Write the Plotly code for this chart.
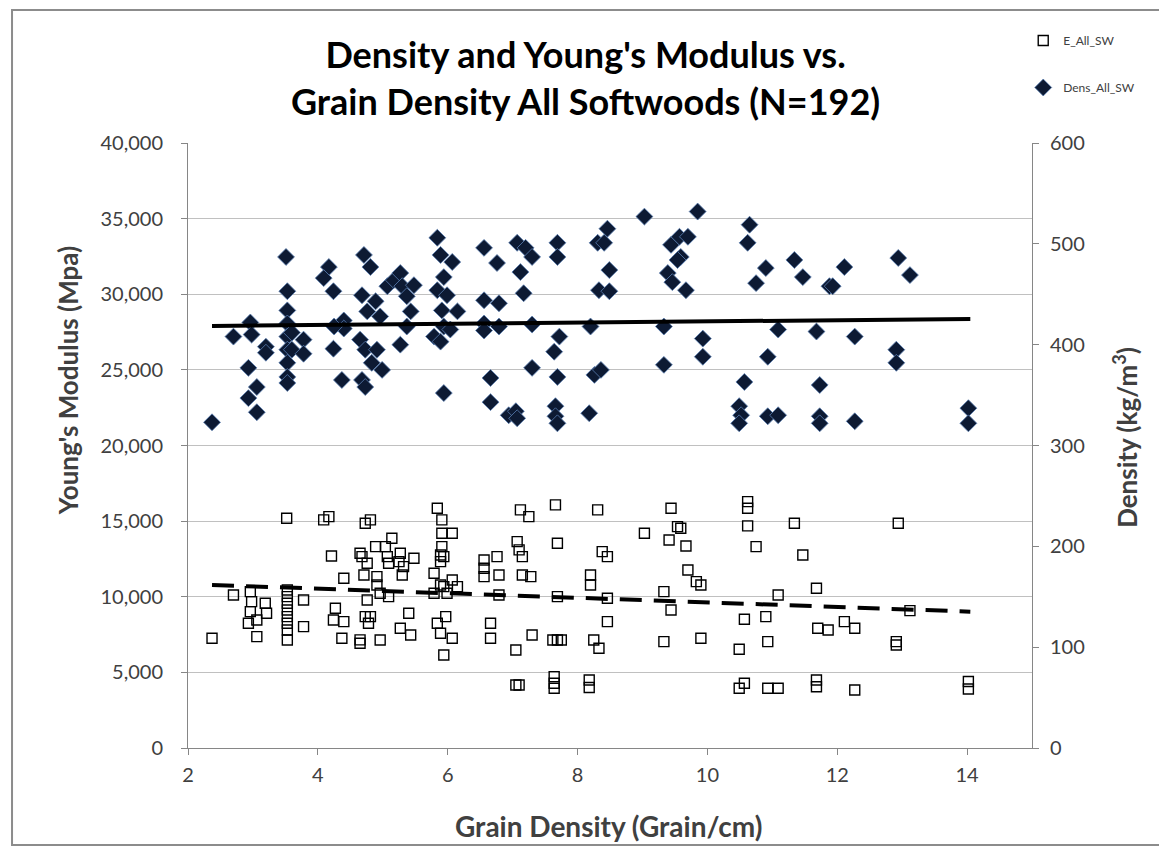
import plotly.graph_objects as go

# ---- Data ----
# Young's modulus (E) series: grain density (grain/cm) and modulus (MPa)
e_x = [2.37, 2.70, 2.96, 2.98, 2.96, 2.93, 3.06, 3.06, 3.19, 3.21,
       3.52, 3.53, 3.53, 3.53, 3.53, 3.53, 3.53, 3.53, 3.53, 3.78, 3.78,
       4.09, 4.17, 4.21, 4.40, 4.27, 4.24, 4.40, 4.37, 4.65, 4.65,
       4.73, 4.81, 4.65, 4.68, 4.76, 4.71, 4.89, 5.04, 5.14, 4.91, 4.91,
       4.76, 4.73, 4.81, 4.78, 4.96, 5.09, 4.96, 5.09, 5.07,
       5.27, 5.25, 5.32, 5.48, 5.30, 5.40, 5.27, 5.43,
       5.84, 5.91, 5.91, 6.07, 5.91, 5.89, 5.94, 5.89, 5.79, 5.89, 5.94, 6.07, 6.15, 5.79, 5.99, 5.97, 5.84, 5.89, 6.07, 5.94,
       6.56, 6.76, 6.56, 6.56, 6.79, 6.79, 6.66, 6.66,
       7.12, 7.25, 7.66, 7.69, 7.07, 7.10, 7.15, 7.15, 7.28, 7.69, 7.30, 7.05, 7.62, 7.69, 7.75, 7.05, 7.10, 7.64, 7.64, 7.64,
       8.31, 8.20, 8.20, 8.46, 8.38, 8.46, 8.46, 8.25, 8.33, 8.18, 8.18,
       9.03, 9.44, 9.54, 9.59, 9.41, 9.67, 9.70, 9.83, 9.90, 9.33, 9.44, 9.33, 9.90,
       10.62, 10.62, 10.62, 10.75, 11.34, 11.47, 11.68, 11.09, 10.57, 10.90, 10.49, 10.93, 11.70, 11.86, 10.57, 10.49, 10.93, 11.09, 11.68, 11.68,
       12.11, 12.27, 12.94, 13.12, 12.91, 12.91, 12.27, 14.02, 14.02]
e_val = [7256, 10119, 10338, 9676, 9015, 8247, 8466, 7361, 9570, 8909,
         15192, 10450, 10007, 9570, 9127, 8684, 8247, 7804, 7143, 9789, 8023,
         15080, 15298, 12699, 11224, 9240, 8466, 8354, 7256, 6925, 7150,
         14862, 15080, 12877, 12652, 12216, 11442, 13314, 13314, 13870, 11330, 10781,
         9789, 8684, 8684, 8247, 10232, 10007, 7143, 12216, 12652,
         12877, 12322, 11991, 12546, 11442, 8909, 7917, 7474,
         15854, 15080, 14200, 14200, 13314, 12765, 12652, 12322, 11555, 10781, 10669, 11111, 10669, 10232, 10232, 8684, 8247, 7586, 7256, 6151,
         12434, 12652, 11885, 11330, 11442, 10119, 8247, 7256,
         15742, 15298, 16072, 13539, 13645, 13096, 12652, 11442, 11330, 10007, 7474, 6482, 7143, 7143, 7143, 4167, 4167, 4716, 4279, 3948,
         15742, 11442, 10781, 9900, 12983, 12652, 8354, 7143, 6594, 4500, 4000,
         14200, 15854, 14637, 14531, 13757, 13360, 11773, 10999, 10781, 10338, 9127, 7031, 7256,
         16290, 15854, 14683, 13314, 14862, 12765, 10562, 10119, 8512, 8684, 6528, 7031, 7917, 7805, 4279, 3948, 3948, 3948, 4497, 4054,
         8354, 7917, 14862, 9081, 7031, 6812, 3836, 4400, 3900]

# Density series: grain density (grain/cm) and density (kg/m3)
d_x = [2.37, 2.70, 2.96, 2.98, 3.20, 3.20, 2.93, 3.06, 2.93, 3.06,
       3.51, 3.53, 3.53, 3.53, 3.53, 3.53, 3.53, 3.53, 3.53, 3.60, 3.60, 3.78, 3.78,
       4.17, 4.09, 4.24, 4.24, 4.37, 4.40, 4.40, 4.25,
       4.68, 4.71, 4.81, 4.65, 4.73, 4.68, 4.73, 4.83, 4.91, 4.99,
       4.76, 4.89, 4.96, 5.07, 5.17, 5.27, 5.30, 5.37, 5.48, 5.43, 5.37, 5.27,
       5.84, 5.89, 6.07, 5.94, 5.84, 5.99, 5.91, 6.15, 5.94, 5.79, 5.89, 6.04, 5.94,
       6.56, 6.76, 6.56, 6.79, 6.56, 6.79, 6.56, 6.66, 6.66, 6.94,
       7.07, 7.20, 7.30, 7.12, 7.17, 7.30,
       7.69, 7.69, 7.72, 7.64, 7.30, 7.69, 7.05, 7.07, 7.66, 7.66, 7.69,
       8.20, 8.18, 8.26, 8.36, 8.31, 8.46, 8.41, 8.49, 8.33, 8.49,
       9.03, 9.44, 9.57, 9.59, 9.54, 9.39, 9.46, 9.67, 9.70, 9.85, 9.33, 9.33, 9.93, 9.93,
       10.65, 10.62, 10.90, 10.75, 11.34, 11.47, 11.88, 11.09, 11.68, 10.93, 10.57, 11.73, 10.49, 10.52, 10.49, 10.93, 11.09, 11.73, 11.73,
       12.11, 11.93, 12.94, 13.12, 12.27, 12.91, 12.91, 12.27, 14.02, 14.02]
d_val = [323, 408, 422, 410, 398, 392, 377, 358, 347, 333,
         487, 453, 434, 421, 408, 395, 382, 368, 362, 412, 395, 405, 391,
         477, 466, 453, 396, 365, 424, 416, 418,
         449, 489, 477, 405, 395, 365, 358, 382, 395, 375,
         433, 443, 428, 458, 464, 471, 458, 448, 459, 433, 418, 400,
         506, 489, 482, 467, 454, 449, 434, 433, 418, 408, 403, 415, 352,
         496, 481, 444, 441, 421, 418, 414, 367, 343, 330,
         501, 496, 487, 472, 451, 420,
         501, 487, 408, 393, 377, 368, 334, 327, 339, 329, 322,
         418, 332, 370, 375, 501, 515, 501, 474, 454, 453,
         527, 499, 507, 487, 484, 471, 462, 454, 507, 532, 418, 380, 406, 388,
         519, 501, 476, 461, 484, 467, 458, 415, 413, 388, 363, 360, 339, 330, 322, 329, 330, 329, 322,
         477, 458, 486, 469, 408, 395, 382, 324, 337, 322]

# Linear trend lines (end points)
trend_x = [2.37, 14.05]
trend_e = [10780, 9015]
trend_d = [418.5, 425.5]

x_ticks = [2, 4, 6, 8, 10, 12, 14]

FONT = "Lato"
GRAY_TXT = "#404040"

fig = go.Figure()

fig.add_trace(go.Scatter(
    x=e_x, y=e_val, mode="markers", name="E_All_SW", legendgroup="e",
    marker=dict(symbol="square-open", size=10, color="black", line=dict(width=1.4, color="black")),
    yaxis="y"))
fig.add_trace(go.Scatter(
    x=d_x, y=d_val, mode="markers", name="Dens_All_SW", legendgroup="d",
    marker=dict(symbol="diamond", size=13, color="#0d1a33", line=dict(width=0.8, color="#5b7fb3")),
    yaxis="y2"))
fig.add_trace(go.Scatter(
    x=trend_x, y=trend_e, mode="lines", showlegend=False,
    line=dict(color="black", width=4, dash="22px,12px"), yaxis="y"))
fig.add_trace(go.Scatter(
    x=trend_x, y=trend_d, mode="lines", showlegend=False,
    line=dict(color="black", width=4), yaxis="y2"))

axis_common = dict(
    showline=True, linecolor="#868686", linewidth=1,
    ticks="outside", ticklen=6, tickcolor="#868686",
    tickfont=dict(family=FONT, size=20, color=GRAY_TXT),
    zeroline=False,
)

title_font = dict(family=FONT, size=26, color=GRAY_TXT, weight="bold")

fig.update_layout(
    width=1167, height=852,
    paper_bgcolor="white", plot_bgcolor="white",
    margin=dict(l=180, r=143, t=135, b=112, autoexpand=False),
    xaxis=dict(
        range=[2, 15], tickvals=x_ticks, showgrid=False,
        ticklabelstandoff=3,
        **axis_common,
    ),
    yaxis=dict(
        range=[0, 40000], dtick=5000, tickformat=",",
        showgrid=True, gridcolor="#c0c0c0", gridwidth=1,
        ticklabelstandoff=14,
        **axis_common,
    ),
    yaxis2=dict(
        range=[0, 600], dtick=100, overlaying="y", side="right", showgrid=False,
        ticklabelstandoff=7,
        **axis_common,
    ),
    legend=dict(
        x=0.9896, y=1.1934, xanchor="left", yanchor="top",
        font=dict(family=FONT, size=12, color=GRAY_TXT),
        tracegroupgap=28, bgcolor="rgba(0,0,0,0)",
    ),
    annotations=[
        dict(text="Density and Young's Modulus vs.<br>Grain Density All Softwoods (N=192)",
             xref="paper", yref="paper", x=0.4704, y=1.1083,
             xanchor="center", yanchor="middle", showarrow=False,
             font=dict(family=FONT, size=36, color="black", weight="bold")),
        dict(text="Young's Modulus (Mpa)", xref="paper", yref="paper",
             x=-0.1422, y=0.608, textangle=-90, showarrow=False,
             xanchor="center", yanchor="middle", font=title_font),
        dict(text="Density (kg/m<sup>3</sup>)", xref="paper", yref="paper",
             x=1.110, y=0.514, textangle=-90, showarrow=False,
             xanchor="center", yanchor="middle", font=title_font),
        dict(text="Grain Density (Grain/cm)", xref="paper", yref="paper",
             x=0.4988, y=-0.129, showarrow=False,
             xanchor="center", yanchor="middle",
             font=dict(family=FONT, size=28, color=GRAY_TXT, weight="bold")),
    ],
    shapes=[dict(type="rect", xref="paper", yref="paper",
                 x0=-0.2085, x1=1.17, y0=-0.1603, y1=1.2198,
                 line=dict(color="#8c8c8c", width=2), layer="below")],
)

fig.write_html("out.html")
